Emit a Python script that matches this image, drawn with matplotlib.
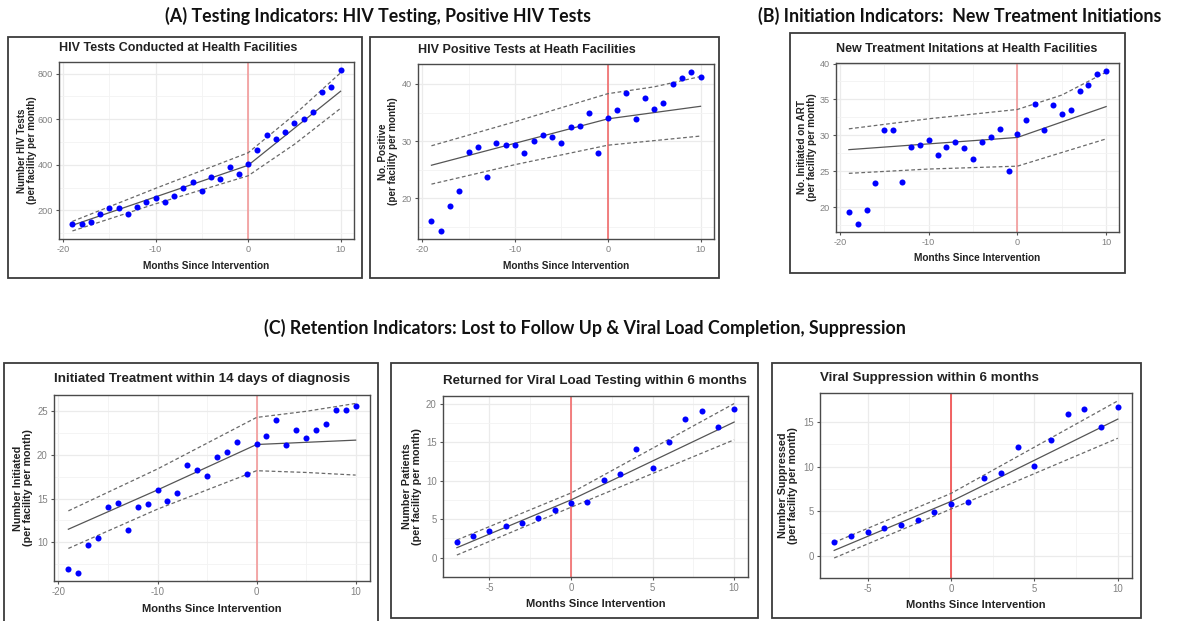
import matplotlib
matplotlib.use("Agg")
from matplotlib import pyplot as plt
from matplotlib.patches import Rectangle

plt.rcParams["font.family"] = ["Liberation Sans", "DejaVu Sans"]
plt.rcParams["axes.unicode_minus"] = False

# months for each series
months_a = list(range(-19, 11))
months_c = list(range(-7, 11))

# (A) HIV tests conducted
tests = [142, 142, 149, 184, 209, 212, 184, 217, 239, 255, 239, 265, 297, 324, 284,
         345, 339, 392, 360, 405, 463, 533, 512, 546, 583, 603, 634, 720, 741, 816]
tests_fit = [135, 398, 723]
tests_hi = [152, 297, 453, 620, 804]
tests_lo = [110, 229, 352, 490, 648]

# (A) HIV positive tests
positive = [16.1, 14.3, 18.7, 21.3, 28.2, 28.9, 23.8, 29.7, 29.3, 29.3, 28.0, 30.0, 31.1, 30.8, 29.7,
            32.5, 32.7, 35.0, 27.9, 34.0, 35.5, 38.4, 33.9, 37.6, 35.6, 36.6, 40.0, 41.0, 42.1, 41.3]
positive_fit = [25.8, 33.9, 36.1]
positive_hi = [29.2, 33.4, 38.3, 39.5, 41.3]
positive_lo = [22.5, 25.9, 29.3, 30.1, 30.9]

# (B) new treatment initiations
initiated = [19.3, 17.6, 19.6, 23.4, 30.7, 30.7, 23.5, 28.4, 28.6, 29.3, 27.2, 28.4, 29.0, 28.3, 26.7,
             29.0, 29.8, 30.9, 25.0, 30.2, 32.1, 34.4, 30.7, 34.2, 32.9, 33.5, 36.2, 37.0, 38.5, 39.0]
initiated_fit = [28.0, 29.7, 34.0]
initiated_hi = [30.9, 32.3, 33.6, 35.6, 38.8]
initiated_lo = [24.7, 25.3, 25.7, 27.6, 29.5]

# (C) initiated within 14 days
within14 = [6.95, 6.54, 9.74, 10.5, 14.0, 14.5, 11.4, 14.1, 14.4, 16.0, 14.7, 15.7, 18.8, 18.3, 17.6,
            19.8, 20.3, 21.5, 17.8, 21.3, 22.2, 24.0, 21.2, 22.9, 22.0, 22.9, 23.5, 25.1, 25.1, 25.6]
within14_fit = [11.5, 16.0, 21.2, 21.7]
within14_hi = [13.6, 18.4, 24.3, 25.0, 25.9]
within14_lo = [9.3, 13.8, 18.2, 18.0, 17.7]

# (C) viral load testing
vl_tests = [2.1, 2.8, 3.45, 4.1, 4.5, 5.1, 6.15, 7.15, 7.2, 10.1, 10.9, 14.05, 11.6, 15.0, 18.0, 19.1, 16.9, 19.3]
vl_fit = [1.3, 7.5, 17.6]
vl_hi = [2.3, 8.4, 20.0]
vl_lo = [0.35, 6.55, 15.3]

# (C) viral suppression
suppressed = [1.54, 2.17, 2.7, 3.15, 3.47, 3.96, 4.94, 5.85, 6.03, 8.69, 9.25, 12.27, 10.06, 13.0, 15.9, 16.5, 14.44, 16.68]
sup_fit = [0.6, 6.1, 15.35]
sup_hi = [1.5, 7.0, 17.4]
sup_lo = [-0.25, 5.25, 13.2]

knots_a = [-19, 0, 10]
knots_c1 = [-19, -10, 0, 10]
ci_x_a = [-19, -10, 0, 5, 10]
knots_c = [-7, 0, 10]

W, H = 1182, 621
fig = plt.figure(figsize=(W / 100, H / 100), dpi=100)


def px_box(l, t, r, b):
    return [l / W, 1 - b / H, (r - l) / W, (b - t) / H]


# ylpad: px from panel left to right edge of y title; xlpad: px from panel bottom to top of x title
# tgap: px from panel top to title centre
panels = [
    dict(frame=(8, 37, 362, 278), box=(59, 62, 354, 239), title="HIV Tests Conducted at Health Facilities",
         ylab="Number HIV Tests\n(per facility per month)", x=months_a, y=tests,
         fx=knots_a, fy=tests_fit, cx=ci_x_a, hi=tests_hi, lo=tests_lo,
         xt=[-20, -10, 0, 10], yt=[200, 400, 600, 800], ylpad=22, xlpad=22, tgap=14, tsize=9.0, fs=6.6,
         lab=7.3, red="#F39A9A"),
    dict(frame=(370, 37, 719, 278), box=(418, 64, 714, 239), title="HIV Positive Tests at Heath Facilities",
         ylab="No. Positive\n(per facility per month)", x=months_a, y=positive,
         fx=knots_a, fy=positive_fit, cx=ci_x_a, hi=positive_hi, lo=positive_lo,
         xt=[-20, -10, 0, 10], yt=[20, 30, 40], ylpad=20, xlpad=22, tgap=14, tsize=9.0, fs=6.6,
         lab=7.3, red="#F06A6A"),
    dict(frame=(790, 33, 1125, 273), box=(836, 63, 1119, 232), title="New Treatment Initations at Health Facilities",
         ylab="No. Initiated on ART\n(per facility per month)", x=months_a, y=initiated,
         fx=knots_a, fy=initiated_fit, cx=ci_x_a, hi=initiated_hi, lo=initiated_lo,
         xt=[-20, -10, 0, 10], yt=[20, 25, 30, 35, 40], ylpad=19, xlpad=21, tgap=14, tsize=9.0, fs=6.6,
         lab=7.3, red="#F39A9A"),
    dict(frame=(4, 363, 378, 630), box=(54, 395, 370, 581), title="Initiated Treatment within 14 days of diagnosis",
         ylab="Number Initiated\n(per facility per month)", x=months_a, y=within14,
         fx=knots_c1, fy=within14_fit, cx=ci_x_a, hi=within14_hi, lo=within14_lo,
         xt=[-20, -10, 0, 10], yt=[10, 15, 20, 25], ylpad=21, xlpad=23, tgap=16, tsize=9.6, fs=6.9,
         lab=8.0, red="#F39A9A"),
    dict(frame=(391, 363, 758, 618), box=(443, 396, 748, 577), title="Returned for Viral Load Testing within 6 months",
         ylab="Number Patients\n(per facility per month)", x=months_c, y=vl_tests,
         fx=knots_c, fy=vl_fit, cx=knots_c, hi=vl_hi, lo=vl_lo,
         xt=[-5, 0, 5, 10], yt=[0, 5, 10, 15, 20], ylpad=21, xlpad=22, tgap=15, tsize=9.6, fs=6.9,
         lab=8.0, red="#F26A6A"),
    dict(frame=(772, 363, 1141, 618), box=(820, 393, 1132, 578), title="Viral Suppression within 6 months",
         ylab="Number Suppressed\n(per facility per month)", x=months_c, y=suppressed,
         fx=knots_c, fy=sup_fit, cx=knots_c, hi=sup_hi, lo=sup_lo,
         xt=[-5, 0, 5, 10], yt=[0, 5, 10, 15], ylpad=22, xlpad=22, tgap=15, tsize=9.6, fs=6.9,
         lab=8.0, red="#F04848"),
]

for p in panels:
    l, t, r, b = p["frame"]
    fig.add_artist(Rectangle((l / W, 1 - b / H), (r - l) / W, (b - t) / H, transform=fig.transFigure,
                             fill=False, ec="#3a3a3a", lw=1.3))
    al, at, ar, ab = p["box"]
    ax = fig.add_axes(px_box(*p["box"]))
    ax.set_axisbelow(True)
    ax.scatter(p["x"], p["y"], s=19, color="#0000FF", linewidths=0, zorder=4)
    ax.plot(p["fx"], p["fy"], color="#555555", lw=0.9, zorder=3)
    ax.plot(p["cx"], p["hi"], color="#6a6a6a", lw=0.9, ls=(0, (3, 2)), zorder=3)
    ax.plot(p["cx"], p["lo"], color="#6a6a6a", lw=0.9, ls=(0, (3, 2)), zorder=3)
    ax.axvline(0, color=p["red"], lw=1.2, zorder=2)
    ax.set_xticks(p["xt"])
    ax.set_yticks(p["yt"])
    xs, ys = p["xt"], p["yt"]
    ax.set_xticks([(xs[i] + xs[i + 1]) / 2 for i in range(len(xs) - 1)], minor=True)
    ax.set_yticks([(ys[i] + ys[i + 1]) / 2 for i in range(len(ys) - 1)] + [ys[0] - (ys[1] - ys[0]) / 2], minor=True)
    ax.set_ylim(ax.get_ylim())
    ax.grid(which="major", color="#EBEBEB", lw=0.9)
    ax.grid(which="minor", color="#F3F3F3", lw=0.6)
    ax.tick_params(which="major", length=2.5, width=0.8, color="#555555", labelsize=p["fs"],
                   labelcolor="#808080", pad=2)
    ax.tick_params(which="minor", length=0)
    for s in ax.spines.values():
        s.set_color("#4a4a4a")
        s.set_linewidth(1.0)
    ax.set_xlabel("Months Since Intervention", fontsize=p["lab"], fontweight="bold", color="#222222")
    ax.xaxis.set_label_coords(0.5, -p["xlpad"] / (ab - at))
    ax.set_ylabel(p["ylab"], fontsize=p["lab"] * 0.97, fontweight="bold", color="#222222", linespacing=1.0)
    ax.yaxis.set_label_coords(-p["ylpad"] / (ar - al), 0.5)
    fig.text(al / W, 1 - (at - p["tgap"]) / H, p["title"], fontsize=p["tsize"], fontweight="bold",
             color="#222222", va="center", ha="left")

hdr = dict(fontsize=12.8, fontweight="bold", family=["Lato", "DejaVu Sans"], color="#111111",
           va="center", ha="center")
fig.text(378 / W, 1 - 16 / H, "(A) Testing Indicators: HIV Testing, Positive HIV Tests", **hdr)
fig.text(960 / W, 1 - 16 / H, "(B) Initiation Indicators:  New Treatment Initiations", **hdr)
fig.text(585 / W, 1 - 328 / H, "(C) Retention Indicators: Lost to Follow Up & Viral Load Completion, Suppression", **hdr)

fig.savefig("out.png", dpi=100)
